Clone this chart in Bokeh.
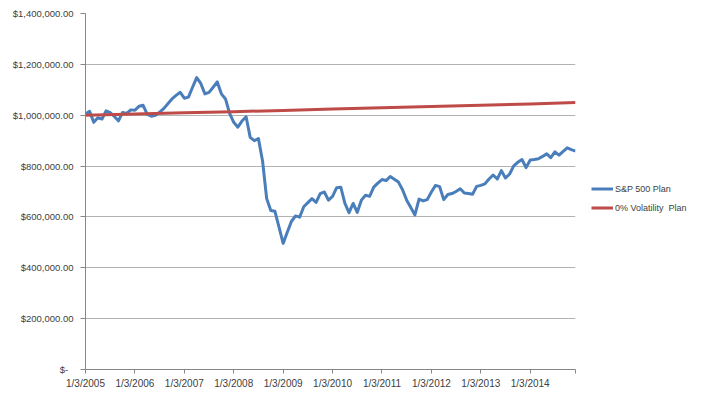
from bokeh.plotting import figure
from bokeh.models import Range1d, FixedTicker, Legend, LegendItem
from bokeh.embed import file_html
from bokeh.resources import INLINE

# Monthly values (thousands of $), Jan 2005 .. Dec 2014
sp500_k = [
    1005, 1015, 972, 990, 985, 1017, 1010, 995, 978, 1011, 1007, 1021,
    1020, 1035, 1039, 1003, 996, 1000, 1012, 1026, 1045, 1064, 1078, 1090,
    1067, 1071, 1110, 1148, 1125, 1084, 1090, 1110, 1131, 1084, 1064, 1007,
    972, 953, 977, 994, 913, 900, 908, 820, 672, 625, 622, 560,
    496, 540, 582, 604, 599, 640, 656, 672, 657, 692, 698, 666,
    681, 715, 717, 653, 617, 653, 618, 666, 685, 681, 717, 733,
    747, 743, 759, 748, 737, 707, 666, 637, 608, 670, 663, 668,
    698, 724, 719, 668, 688, 692, 700, 711, 694, 692, 689, 720,
    724, 730, 749, 765, 749, 782, 753, 769, 801, 815, 826, 794,
    824, 826, 829, 838, 848, 833, 856, 843, 858, 872, 865, 859,
]
month_index = list(range(len(sp500_k)))

# 0% volatility plan, read at each January and at the end
zero_vol_month = [0, 12, 24, 36, 48, 60, 72, 84, 96, 108, 119]
zero_vol_k = [1000, 1005, 1010, 1014, 1019, 1024, 1029, 1034, 1039, 1044, 1050]

year_ticks = [0, 12, 24, 36, 48, 60, 72, 84, 96, 108, 119]
year_labels = ["1/3/2005", "1/3/2006", "1/3/2007", "1/3/2008", "1/3/2009",
               "1/3/2010", "1/3/2011", "1/3/2012", "1/3/2013", "1/3/2014", ""]

y_ticks = [0, 200000, 400000, 600000, 800000, 1000000, 1200000, 1400000]
y_labels = ["$-\u00a0\u00a0", "$200,000.00", "$400,000.00", "$600,000.00",
            "$800,000.00", "$1,000,000.00", "$1,200,000.00", "$1,400,000.00"]

sp500 = [v * 1000 for v in sp500_k]
zero_vol = [v * 1000 for v in zero_vol_k]

FONT = "Liberation Sans"
TXT = "#404040"
AX = "#868686"

p = figure(output_backend="svg", toolbar_location=None,
           frame_width=490, frame_height=356,
           min_border_left=85, min_border_top=13, min_border_bottom=28,
           min_border_right=127,
           x_range=Range1d(0, 119), y_range=Range1d(0, 1400000),
           background_fill_color="white", border_fill_color="white")
p.outline_line_color = None

p.xgrid.visible = False
p.ygrid.grid_line_color = "#b3b3b3"
p.ygrid.grid_line_width = 1
p.ygrid.ticker = FixedTicker(ticks=y_ticks)

p.yaxis.ticker = FixedTicker(ticks=y_ticks)
p.yaxis.major_label_overrides = {t: l for t, l in zip(y_ticks, y_labels)}
p.xaxis.ticker = FixedTicker(ticks=year_ticks)
p.xaxis.major_label_overrides = {t: l for t, l in zip(year_ticks, year_labels)}

for ax in (p.xaxis, p.yaxis):
    ax.axis_line_color = AX
    ax.major_tick_line_color = AX
    ax.minor_tick_line_color = None
    ax.major_tick_in = 0
    ax.major_tick_out = 5
    ax.major_label_text_font = FONT
    ax.major_label_text_color = TXT
p.yaxis.major_label_text_font_size = "9.5px"
p.yaxis.major_label_standoff = 7
p.xaxis.major_label_text_font_size = "10px"
p.xaxis.major_label_standoff = 4
p.xaxis.major_tick_out = 4

r1 = p.line(month_index, sp500, line_color="#4a7ebb", line_width=3, line_join="round")
r2 = p.line(zero_vol_month, zero_vol, line_color="#be4b48", line_width=3, line_join="round")

legend = Legend(items=[LegendItem(label="S&P 500 Plan", renderers=[r1]),
                       LegendItem(label="0% Volatility  Plan", renderers=[r2])],
                location=(16, 152), orientation="vertical",
                border_line_color=None, background_fill_alpha=0,
                margin=0, padding=0, spacing=0,
                glyph_width=22, glyph_height=19, label_height=19,
                label_standoff=2,
                label_text_font=FONT, label_text_font_size="9px",
                label_text_color=TXT)
p.add_layout(legend, "right")

open("out.html", "w").write(file_html(p, INLINE))
